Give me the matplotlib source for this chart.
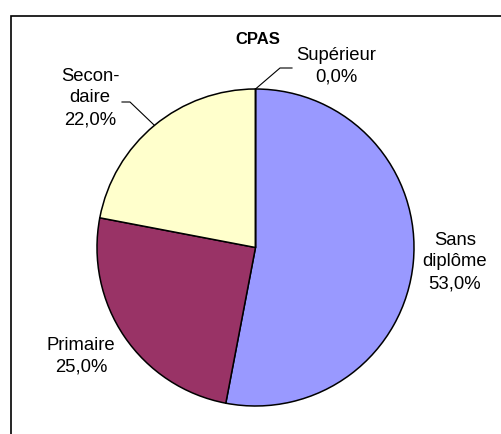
import matplotlib
matplotlib.use("Agg")
import matplotlib.pyplot as plt
from matplotlib.patches import Rectangle
import numpy as np

# Data
categories = ["Sans\ndiplôme", "Primaire", "Secon-\ndaire", "Supérieur"]
values = [53.0, 25.0, 22.0, 0.0]
title = "CPAS"

colors = ["#9999FF", "#993366", "#FFFFCC", "#CCFFFF"]

W, H = 501, 434
fig = plt.figure(figsize=(W / 100, H / 100), dpi=100)
ax = fig.add_axes([0, 0, 1, 1])

cx, cy, R = 255.5, H - 247.5, 158.5
wedges, _ = ax.pie(values, colors=colors, startangle=90, counterclock=False,
                   center=(cx, cy), radius=R,
                   wedgeprops=dict(edgecolor="black", linewidth=1.1))
ax.set_xlim(0, W)
ax.set_ylim(0, H)
ax.set_aspect("auto")
ax.axis("off")

# label positions (image pixel coords, centre of text block)
label_pos = [(455, 262), (81, 356), (90, 98), (336, 66)]
for cat, v, (lx, ly) in zip(categories, values, label_pos):
    txt = f"{cat}\n{v:.1f}".replace(".", ",") + "%"
    ax.text(lx, H - ly, txt, ha="center", va="center", fontsize=13.3,
            family="Liberation Sans", linespacing=1.38)

# leader lines
def edge_point(w):
    ang = np.deg2rad((w.theta1 + w.theta2) / 2)
    return cx + R * np.cos(ang), cy + R * np.sin(ang)

sx, sy = edge_point(wedges[3])
ax.plot([sx, 280, 292], [sy, H - 68, H - 68], color="black", lw=0.8)
sx, sy = edge_point(wedges[2])
ax.plot([sx, 130, 122], [sy, H - 102, H - 102], color="black", lw=0.8)

ax.text(258, H - 40, title, ha="center", va="center", fontsize=12,
        fontweight="bold", family="Liberation Sans")

# chart area frame
ax.add_patch(Rectangle((11.5, -20), 600, H - 15.5 + 20, fill=False,
                       edgecolor="black", lw=1.2, clip_on=False))

fig.savefig("out.png", dpi=100)
